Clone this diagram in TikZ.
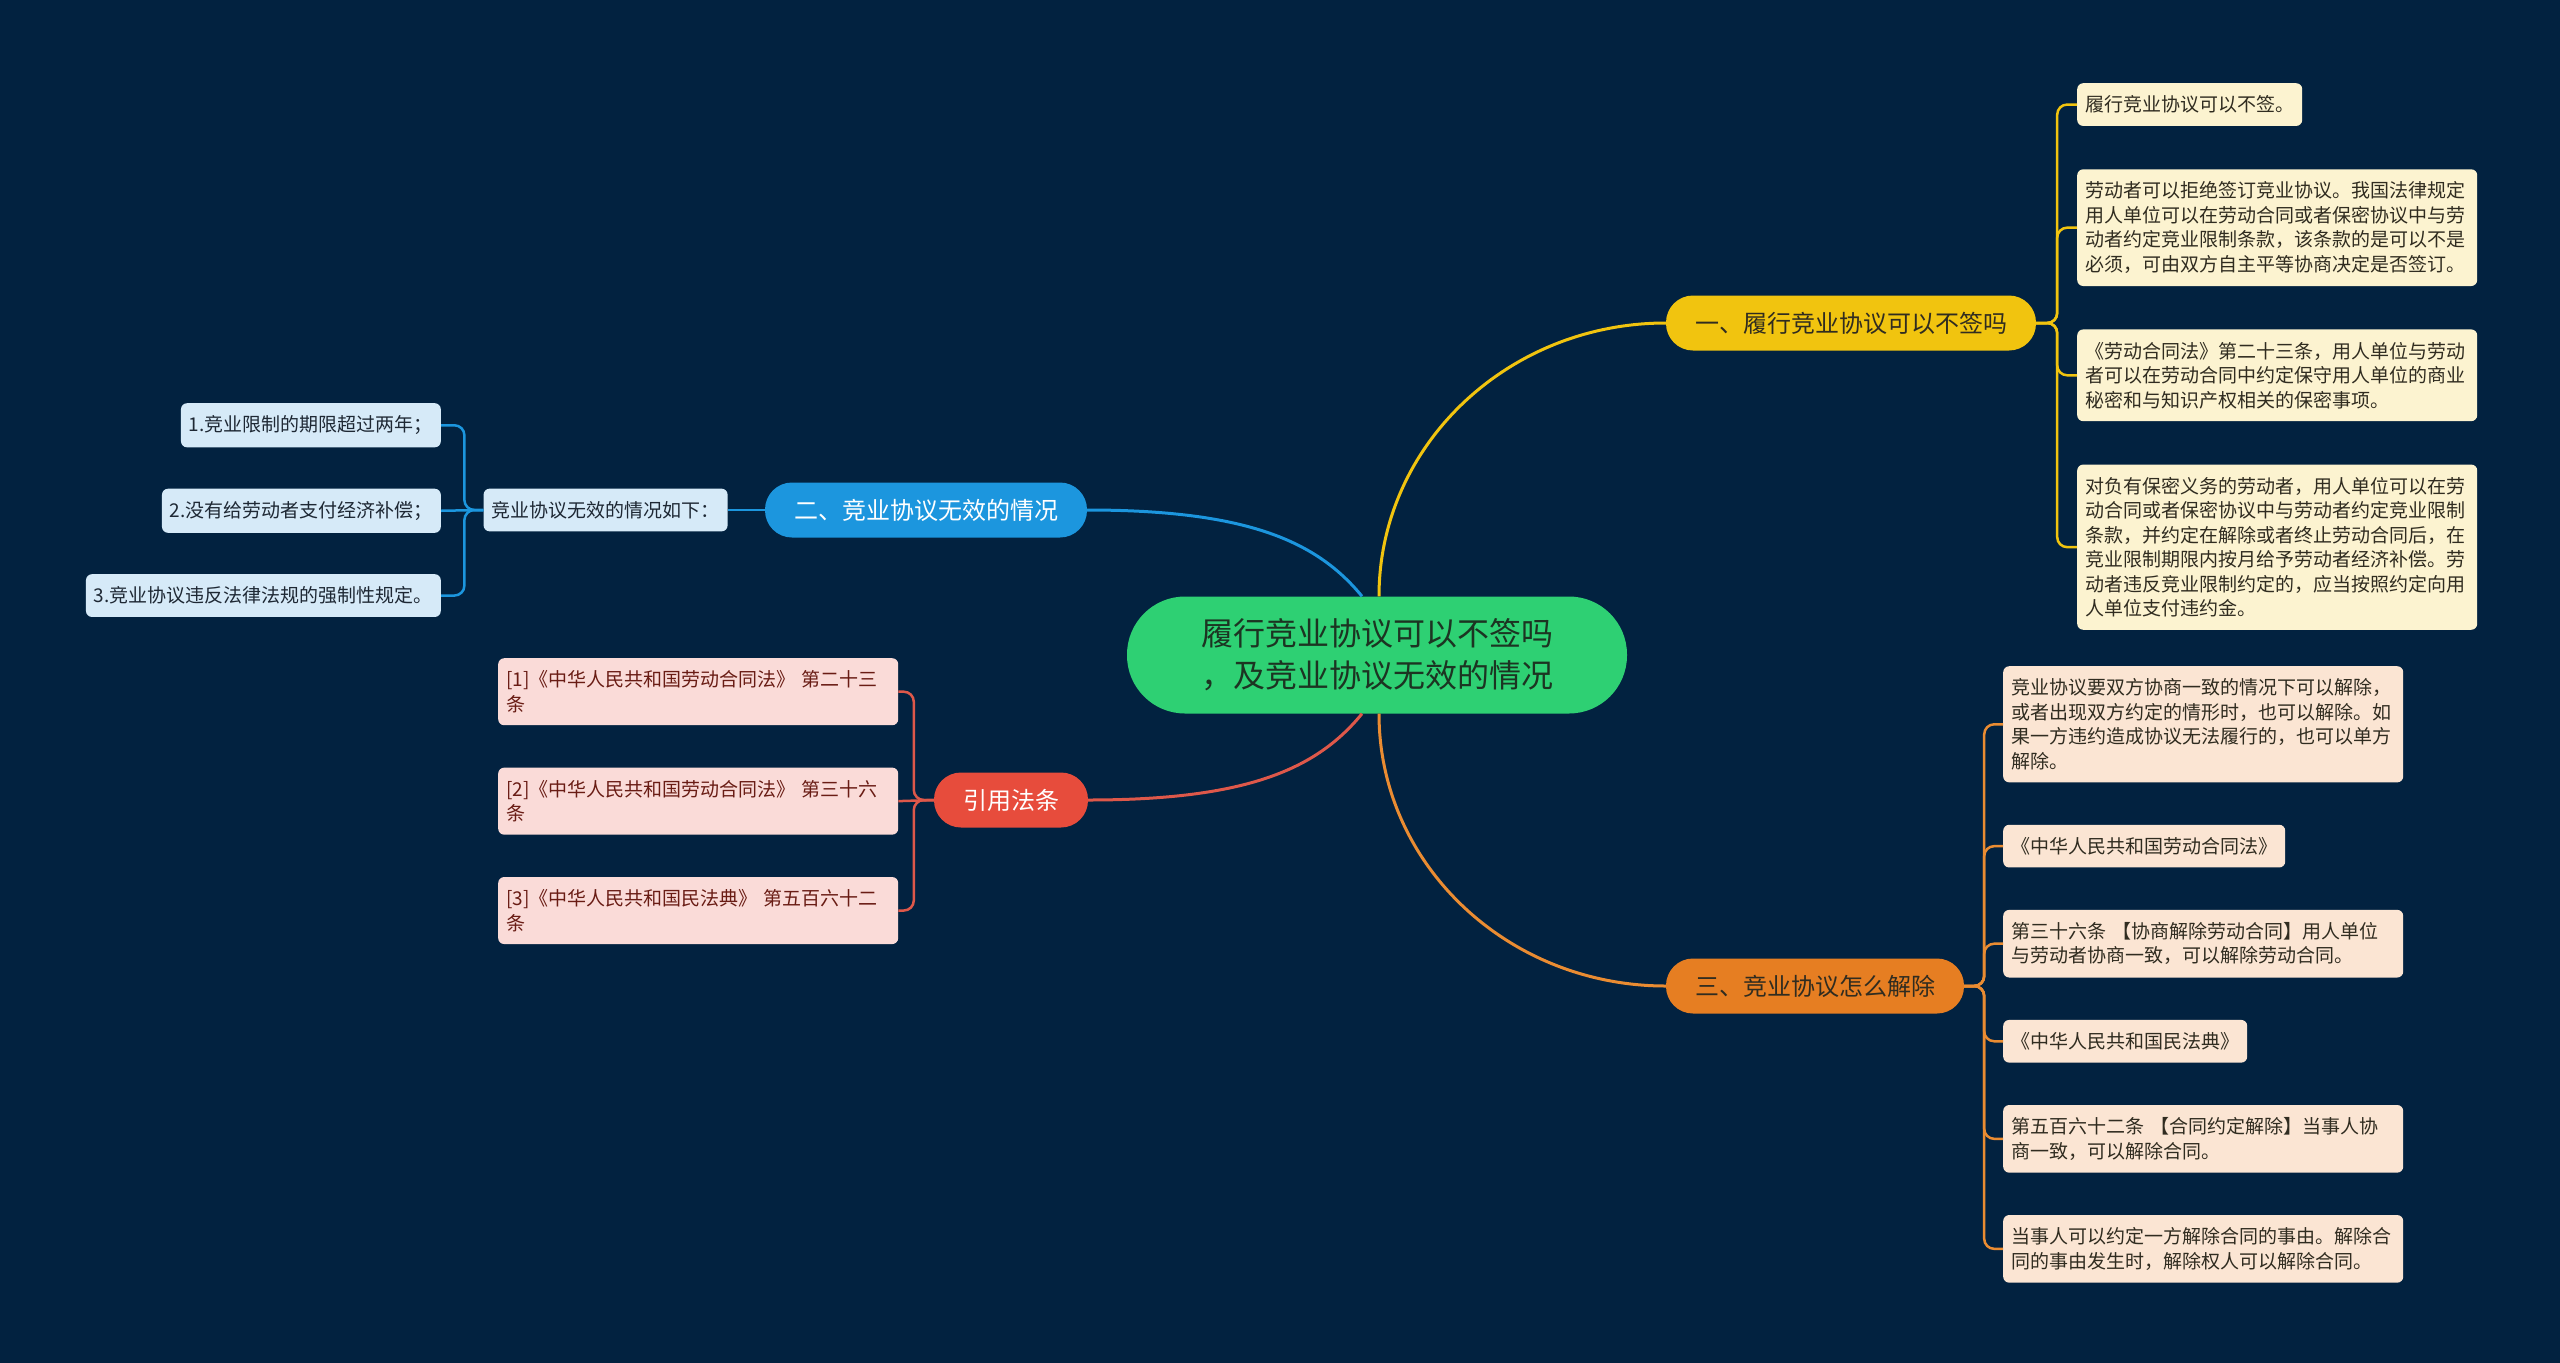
\documentclass[tikz,border=0pt]{standalone}
\usepackage{fontspec}
\usepackage{xcolor}
\usepackage{tikz}
\usetikzlibrary{positioning}
\newfontfamily\cjkfont{Noto Sans CJK SC}
\definecolor{bgnavy}{RGB}{2,34,64}
\definecolor{rootgreen}{RGB}{46,208,115}
\definecolor{rootink}{RGB}{28,52,34}
\definecolor{brYellow}{RGB}{241,196,15}
\definecolor{brBlue}{RGB}{28,150,222}
\definecolor{brRed}{RGB}{231,76,60}
\definecolor{brOrange}{RGB}{230,126,34}
\definecolor{lineRed}{RGB}{222,88,74}
\definecolor{lineOrange}{RGB}{234,140,50}
\definecolor{lfYellow}{RGB}{252,243,208}
\definecolor{lfBlue}{RGB}{214,234,248}
\definecolor{lfRed}{RGB}{250,219,216}
\definecolor{lfOrange}{RGB}{251,229,211}
\definecolor{darkink}{RGB}{48,44,32}
\definecolor{redink}{RGB}{105,28,20}
\definecolor{blueink}{RGB}{30,40,52}

\begin{document}
\begin{tikzpicture}[
  x=1pt, y=-1pt,
  every node/.style={font=\cjkfont},
  rootbox/.style={fill=rootgreen, text=rootink, rounded corners=58pt,
                  minimum width=500pt, minimum height=117pt, align=center,
                  font=\cjkfont\fontsize{32pt}{42pt}\selectfont},
  branch/.style={rounded corners=27pt, minimum height=55pt, inner xsep=29pt,
                 font=\cjkfont\fontsize{24pt}{30pt}\selectfont},
  leaf/.style={rounded corners=6pt, inner xsep=8pt, inner ysep=12.5pt, align=left,
               minimum height=42pt,
               font=\cjkfont\fontsize{19pt}{24.5pt}\selectfont},
  wideleaf/.style={leaf, text width=384pt},
  ylleaf/.style={fill=lfYellow, text=darkink},
  blleaf/.style={leaf, fill=lfBlue, text=blueink},
  rdleaf/.style={wideleaf, fill=lfRed, text=redink},
  orleaf/.style={fill=lfOrange, text=darkink},
  link/.style={line width=3pt},
  fork/.style={line width=2.5pt, rounded corners=10pt}
]
\fill[bgnavy] (0,0) rectangle (2560,1363);
\useasboundingbox (0,0) rectangle (2560,1363);

\node[rootbox] (root) at (1377,655) {履行竞业协议可以不签吗\\，及竞业协议无效的情况};

\node[branch, fill=brYellow, text=darkink] (b1) at (1851,323) {一、履行竞业协议可以不签吗};
\node[branch, fill=brBlue, text=white]     (b2) at (926,510)  {二、竞业协议无效的情况};
\node[branch, fill=brRed, text=white]      (b3) at (1011,800) {引用法条};
\node[branch, fill=brOrange, text=darkink] (b4) at (1815,986) {三、竞业协议怎么解除};

\node[leaf, ylleaf, anchor=north west] (y1) at (2077,83) {履行竞业协议可以不签。};
\node[wideleaf, ylleaf, below=43pt of y1.south west, anchor=north west] (y2)
  {劳动者可以拒绝签订竞业协议。我国法律规定\\用人单位可以在劳动合同或者保密协议中与劳\\动者约定竞业限制条款，该条款的是可以不是\\必须，可由双方自主平等协商决定是否签订。};
\node[wideleaf, ylleaf, below=43pt of y2.south west, anchor=north west] (y3)
  {《劳动合同法》第二十三条，用人单位与劳动\\者可以在劳动合同中约定保守用人单位的商业\\秘密和与知识产权相关的保密事项。};
\node[wideleaf, ylleaf, below=43pt of y3.south west, anchor=north west] (y4)
  {对负有保密义务的劳动者，用人单位可以在劳\\动合同或者保密协议中与劳动者约定竞业限制\\条款，并约定在解除或者终止劳动合同后，在\\竞业限制期限内按月给予劳动者经济补偿。劳\\动者违反竞业限制约定的，应当按照约定向用\\人单位支付违约金。};

\node[blleaf, left=37pt of b2] (mid) {竞业协议无效的情况如下：};
\node[blleaf, anchor=north east] (l1) at (441,403) {1.竞业限制的期限超过两年；};
\node[blleaf, below=41pt of l1.south east, anchor=north east] (l2) {2.没有给劳动者支付经济补偿；};
\node[blleaf, below=41pt of l2.south east, anchor=north east] (l3) {3.竞业协议违反法律法规的强制性规定。};

\node[rdleaf, anchor=north west] (r1) at (498,658) {[1]《中华人民共和国劳动合同法》 第二十三\\条};
\node[rdleaf, below=42pt of r1.south west, anchor=north west] (r2) {[2]《中华人民共和国劳动合同法》 第三十六\\条};
\node[rdleaf, below=42pt of r2.south west, anchor=north west] (r3) {[3]《中华人民共和国民法典》 第五百六十二\\条};

\node[wideleaf, orleaf, anchor=north west] (o1) at (2003,666)
  {竞业协议要双方协商一致的情况下可以解除，\\或者出现双方约定的情形时，也可以解除。如\\果一方违约造成协议无法履行的，也可以单方\\解除。};
\node[leaf, orleaf, below=42pt of o1.south west, anchor=north west] (o2) {《中华人民共和国劳动合同法》};
\node[wideleaf, orleaf, below=42pt of o2.south west, anchor=north west] (o3)
  {第三十六条 【协商解除劳动合同】用人单位\\与劳动者协商一致，可以解除劳动合同。};
\node[leaf, orleaf, below=42pt of o3.south west, anchor=north west] (o4) {《中华人民共和国民法典》};
\node[wideleaf, orleaf, below=42pt of o4.south west, anchor=north west] (o5)
  {第五百六十二条 【合同约定解除】当事人协\\商一致，可以解除合同。};
\node[wideleaf, orleaf, below=42pt of o5.south west, anchor=north west] (o6)
  {当事人可以约定一方解除合同的事由。解除合\\同的事由发生时，解除权人可以解除合同。};

\draw[link, brYellow] ([xshift=2pt]root.north) .. controls +(0,-151) and +(-158,0) .. (b1.west);
\draw[link, lineOrange] ([xshift=2pt]root.south) .. controls +(0,151) and +(-158,0) .. (b4.west);
\draw[link, brBlue] (b2.east) .. controls +(160,0) and +(-45,-55) .. ([xshift=-15pt]root.north);
\draw[link, lineRed] (b3.east) .. controls +(160,0) and +(-45,55) .. ([xshift=-15pt]root.south);

\draw[fork, brYellow] (b1.east) -- ++(21,0) |- (y1.west);
\draw[fork, brYellow] (b1.east) -- ++(21,0) |- (y2.west);
\draw[fork, brYellow] (b1.east) -- ++(21,0) |- (y3.west);
\draw[fork, brYellow] (b1.east) -- ++(21,0) |- (y4.west);

\draw[fork, brBlue] (b2.west) -- (mid.east);
\draw[fork, brBlue] (mid.west) -- ++(-19,0) |- (l1.east);
\draw[fork, brBlue] (mid.west) -- (l2.east);
\draw[fork, brBlue] (mid.west) -- ++(-19,0) |- (l3.east);

\draw[fork, lineRed] (b3.west) -- ++(-20,0) |- (r1.east);
\draw[fork, lineRed] (b3.west) -- (r2.east);
\draw[fork, lineRed] (b3.west) -- ++(-20,0) |- (r3.east);

\draw[fork, lineOrange] (b4.east) -- ++(20,0) |- (o1.west);
\draw[fork, lineOrange] (b4.east) -- ++(20,0) |- (o2.west);
\draw[fork, lineOrange] (b4.east) -- ++(20,0) |- (o3.west);
\draw[fork, lineOrange] (b4.east) -- ++(20,0) |- (o4.west);
\draw[fork, lineOrange] (b4.east) -- ++(20,0) |- (o5.west);
\draw[fork, lineOrange] (b4.east) -- ++(20,0) |- (o6.west);
\end{tikzpicture}
\end{document}
